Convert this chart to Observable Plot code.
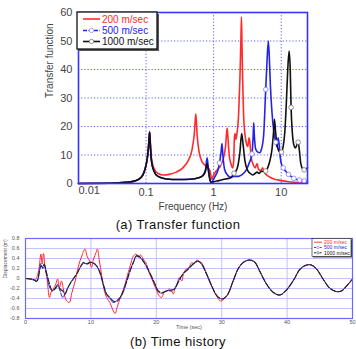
<!DOCTYPE html>
<html><head><meta charset="utf-8">
<script src="https://cdn.jsdelivr.net/npm/d3@7"></script>
<script src="https://cdn.jsdelivr.net/npm/@observablehq/plot@0.6"></script>
<style>
body{margin:0;background:#fff;font-family:"Liberation Sans",Arial,sans-serif;}
#wrap{position:relative;width:356px;height:349px;overflow:hidden;background:#fff;}
#wrap > *{position:absolute;left:0;}
.cap{width:356px;text-align:center;font-size:13px;color:#111;letter-spacing:0.4px;line-height:1;}
</style></head><body><div id="wrap"></div>
<script>
// ---------- (a) Transfer function ----------
const seriesNames = ["200 m/sec", "500 m/sec", "1000 m/sec"];
const redF = [0.01,0.03,0.05,0.07,0.085,0.095,0.103,0.108,0.111,0.113,0.116,0.12,0.13,0.15,0.18,0.22,0.28,0.35,0.42,0.48,0.52,0.545,0.57,0.61,0.68,0.78,0.88,0.94,1.0,1.1,1.25,1.4,1.5,1.56,1.59,1.63,1.7,1.8,1.92,1.98,2.03,2.08,2.13,2.2,2.35,2.45,2.53,2.58,2.63,2.7,2.8,3.0,3.2,3.35,3.45,3.6,3.8,4.1,4.4,4.6,5.0,5.3,5.6,6.5,8,10,13,18,24.5];
const redV = [0,0.1,0.4,1.0,2.2,4.5,8,12,16,18.2,14,9,5.5,3.5,3,3.2,4,5.5,8,12,18,24.5,17,11,7.5,6,4.5,1.5,3,4.5,6,9,13,18,19.5,16,10,7,5.5,8,16,17.5,15.5,17,25,37,50,58.5,48,35,22,15,13,16,14,9,7,5.5,7,5,4.5,5.5,4,2.5,1.5,1,0.6,0.3,0.2];
const blueF = [0.01,0.03,0.05,0.07,0.085,0.095,0.103,0.108,0.111,0.113,0.116,0.12,0.13,0.15,0.2,0.3,0.45,0.6,0.7,0.76,0.8,0.83,0.87,0.92,0.97,1.05,1.15,1.22,1.28,1.33,1.37,1.45,1.6,1.8,2.0,2.3,2.6,3.0,3.4,3.7,3.85,3.92,4.0,4.2,4.5,4.8,5.1,5.5,5.9,6.2,6.45,6.65,6.9,7.3,7.8,8.3,8.7,9.0,9.3,9.7,10.2,10.7,11.5,12.8,14,15.4,17,18.7,21.9,24.5];
const blueV = [0,0.1,0.4,1.0,2.2,4.5,8,12,16,18,13,8,4.5,2.5,1.6,1.4,1.5,2,3,5,9,6,2,0.3,1,2.5,4.5,7.2,10.5,14,10,5,3,2.2,2.5,2.5,3,4.5,7.5,10.4,17,21.3,17,12,11,10.8,12,17,33,44,50,45,35,25,18,14.5,13,16,14,9,6.5,5.5,4.5,3.2,2.5,1.8,1.4,1.2,0.9,0.8];
const blackF = [0.01,0.03,0.05,0.07,0.085,0.095,0.103,0.108,0.111,0.113,0.116,0.12,0.13,0.15,0.2,0.3,0.45,0.6,0.7,0.76,0.8,0.83,0.87,0.92,1.0,1.2,1.5,1.8,2.0,2.1,2.3,2.45,2.6,2.72,2.9,3.2,3.5,3.8,4.1,4.4,4.7,5.0,5.5,5.9,6.3,6.8,7.3,7.7,7.95,8.2,8.6,9.0,9.5,10.1,10.7,11.3,11.9,12.5,13.1,13.6,14.0,14.6,15.4,16.2,17.0,17.8,18.5,19.5,21.0,21.8,24.5];
const blackV = [0,0.1,0.4,1.0,2.2,4.5,8,12,16,18,13,8,4.5,2.5,1.6,1.4,1.5,2,2.8,4.5,7,5,2,0.3,0.6,1,1.6,2,3.6,4,6.5,11,17.5,14,8,4.5,3.5,3,3.5,4,3.5,4.2,4.3,4.4,5.5,8,12,18,22.5,19,14,12,11,11,13,18,28,40,46.5,40,26.7,18,13.5,12.5,13.5,14.5,12,7,5,4.8,5.5];
const blueMarkF = [1.22,3.7,5.9,8.3,10.7,12.8,15.4,18.7,21.9];
const blackMarkF = [2.0,5.9,10.1,14.0,17.8,21.8];
const freqTicks = [0.01,0.1,1,10];
const tfTicks = [0,10,20,30,40,50,60];

// ---------- (b) Time history ----------
const redT = [0,0.97,1.5,2.0,2.35,2.55,2.75,3.0,3.27,3.67,3.9,4.27,4.64,4.9,5.2,5.5,5.8,6.2,6.7,7.1,7.6,8.1,8.6,9.1,9.4,9.8,10.1,10.4,10.8,11.0,11.3,11.7,12.0,12.4,12.9,13.3,13.7,14.0,14.5,15.0,15.5,16.0,16.5,16.9,17.25,17.6,18.0,18.4,18.9,19.45,19.95,20.45,20.8,21.2,21.6,22.0,22.35,22.6,22.9,23.2,23.5,23.9,24.2,24.6,25.0,25.4,25.75,26.2,26.6,26.9,27.3,27.8,28.3,28.8,29.3,29.8,30.2,31.0,31.75,32.5,33.3,34.3,35.1,35.8,36.85,37.9,38.9,39.9,41.0,42.0,43.0,43.7,44.5,45.5,46.5,47.5,48.3,49.1,50];
const redD = [0,-0.01,-0.03,0.15,0.49,0.29,0.5,0.21,0.02,-0.38,-0.28,-0.21,-0.11,-0.01,-0.18,-0.05,-0.21,-0.43,-0.48,-0.28,-0.05,0.25,0.45,0.59,0.45,0.35,0.22,0.39,0.52,0.59,0.35,0.02,-0.21,-0.38,-0.48,-0.61,-0.7,-0.58,-0.38,-0.21,0.02,0.25,0.45,0.49,0.42,0.47,0.39,0.32,0.12,-0.05,-0.21,-0.35,-0.38,-0.28,-0.25,-0.21,-0.25,-0.31,-0.18,-0.11,0.02,-0.05,0.12,0.19,0.22,0.32,0.29,0.37,0.34,0.32,0.22,0.05,-0.11,-0.25,-0.37,-0.45,-0.43,-0.31,-0.05,0.19,0.32,0.37,0.32,0.15,-0.11,-0.28,-0.33,-0.23,-0.03,0.19,0.27,0.27,0.19,-0.01,-0.19,-0.26,-0.25,-0.15,-0.01];
const blueT = [0,0.7,1.2,1.74,2.15,2.35,2.65,2.85,3.27,3.77,4.1,4.5,4.9,5.3,5.7,6.06,6.4,6.8,7.3,7.85,8.35,8.85,9.4,9.9,10.4,10.9,11.4,11.9,12.4,12.9,13.4,13.95,14.5,15.0,15.5,16.0,16.5,17.0,17.5,18.3,19.0,19.8,20.3,20.8,21.6,22.35,22.8,23.35,24.1,24.9,25.65,26.4,26.9,27.7,28.5,29.2,30.0,30.75,31.75,32.5,33.3,34.3,35.1,35.8,36.85,37.9,38.9,39.9,41.0,42.0,43.0,43.7,44.5,45.5,46.5,47.5,48.3,49.1,50];
const blueD = [0,-0.01,-0.03,-0.06,0.18,0.3,0.2,0.27,0.05,-0.2,-0.24,-0.2,-0.12,-0.25,-0.38,-0.3,-0.2,-0.1,0.0,0.1,0.22,0.3,0.3,0.33,0.3,0.24,0.1,-0.13,-0.32,-0.4,-0.48,-0.44,-0.37,-0.22,-0.03,0.17,0.33,0.47,0.42,0.28,0.1,-0.12,-0.26,-0.3,-0.24,-0.25,-0.2,-0.06,0.1,0.2,0.3,0.34,0.3,0.08,-0.16,-0.34,-0.41,-0.35,-0.05,0.19,0.32,0.37,0.32,0.15,-0.11,-0.28,-0.33,-0.23,-0.03,0.19,0.27,0.27,0.19,-0.01,-0.19,-0.26,-0.25,-0.15,-0.01];
const blackT = [0,0.7,1.2,1.74,2.15,2.35,2.65,2.85,3.27,3.77,4.1,4.5,4.9,5.3,5.7,6.06,6.4,6.8,7.3,7.85,8.35,8.85,9.4,9.9,10.4,10.9,11.4,11.9,12.4,12.9,13.4,13.95,14.5,15.0,15.5,16.0,16.5,17.0,17.5,18.3,19.0,19.8,20.3,20.8,21.6,22.35,22.8,23.35,24.1,24.9,25.65,26.4,26.9,27.7,28.5,29.2,30.0,30.75,31.75,32.5,33.3,34.3,35.1,35.8,36.85,37.9,38.9,39.9,41.0,42.0,43.0,43.7,44.5,45.5,46.5,47.5,48.3,49.1,50];
const blackD = [0,-0.01,-0.02,-0.05,0.15,0.25,0.22,0.29,0.09,-0.15,-0.25,-0.21,-0.15,-0.21,-0.25,-0.31,-0.21,-0.11,-0.01,0.09,0.22,0.32,0.29,0.32,0.31,0.25,0.12,-0.11,-0.31,-0.38,-0.45,-0.46,-0.38,-0.25,-0.05,0.15,0.32,0.45,0.43,0.29,0.12,-0.11,-0.25,-0.28,-0.25,-0.23,-0.21,-0.08,0.09,0.19,0.29,0.35,0.29,0.09,-0.15,-0.33,-0.41,-0.35,-0.05,0.19,0.32,0.37,0.32,0.15,-0.11,-0.28,-0.33,-0.23,-0.03,0.19,0.27,0.27,0.19,-0.01,-0.19,-0.26,-0.25,-0.15,-0.01];
const timeTicks = [0,10,20,30,40,50];
const dispTicks = [-0.8,-0.6,-0.4,-0.2,0,0.2,0.4,0.6,0.8];

const RED = "#ff2b2b", BLUE = "#2424e6", BLACK = "#111111";
const zip = (xs, ys) => xs.map((x, i) => ({x, y: ys[i]}));
const pick = (fs, xs, ys) => fs.map(f => ({x: f, y: ys[xs.indexOf(f)]}));

const wrap = document.getElementById("wrap");
const FONT = "Liberation Sans, Arial, sans-serif";

// ---- top plot ----
const topPlot = Plot.plot({
  width: 356, height: 215,
  marginLeft: 78, marginRight: 49, marginTop: 12, marginBottom: 32,
  x: {type: "log", domain: [0.01, 24.5]},
  y: {domain: [0, 60]},
  style: {fontFamily: FONT, fontSize: "11px", color: "#333", background: "transparent", overflow: "visible"},
  marks: [
    Plot.ruleX(freqTicks.slice(1), {stroke: "#5c5cff", strokeDasharray: "1.2,2", strokeWidth: 1}),
    Plot.ruleY(tfTicks.slice(1, -1), {stroke: "#5c5cff", strokeDasharray: "1.2,2", strokeWidth: 1}),
    Plot.line(zip(redF, redV), {x: "x", y: "y", stroke: RED, strokeWidth: 1.6, curve: "monotone-x"}),
    Plot.line(zip(blueF, blueV), {x: "x", y: "y", stroke: BLUE, strokeWidth: 1.6, curve: "monotone-x"}),
    Plot.line(zip(blackF, blackV), {x: "x", y: "y", stroke: BLACK, strokeWidth: 1.6, curve: "monotone-x"}),
    Plot.dot(pick(blueMarkF, blueF, blueV), {x: "x", y: "y", r: 2.3, fill: "white", stroke: "#8080ff", strokeWidth: 0.8}),
    Plot.dot(pick(blackMarkF, blackF, blackV), {x: "x", y: "y", r: 2.3, fill: "white", stroke: "#777", strokeWidth: 0.8}),
    Plot.frame({stroke: "#3535ff", strokeWidth: 1.6}),
    Plot.axisY(tfTicks, {tickSize: 0, tickPadding: 6, label: null, fill: "#444"}),
    Plot.axisX(freqTicks.slice(1), {tickSize: 0, tickPadding: 5, label: null, tickFormat: d => String(d), fill: "#444"}),
    Plot.text(freqTicks.slice(0, 1), {x: d => d, frameAnchor: "bottom", dy: 10, textAnchor: "start", text: d => String(d), fill: "#444", fontSize: 11}),
    Plot.text(["Frequency (Hz)"], {frameAnchor: "bottom", dy: 26, text: d => d, fill: "#444", fontSize: 10}),
    Plot.text(["Transfer function"], {frameAnchor: "left", dx: -29, rotate: -90, text: d => d, fill: "#444", fontSize: 10})
  ]
});
topPlot.style.top = "0px";
wrap.appendChild(topPlot);

// ---- bottom plot ----
const botPlot = Plot.plot({
  width: 356, height: 102,
  marginLeft: 25, marginRight: 4, marginTop: 6, marginBottom: 16,
  x: {domain: [0, 50]},
  y: {domain: [-0.8, 0.8]},
  style: {fontFamily: FONT, fontSize: "5.5px", color: "#555", background: "transparent", overflow: "visible"},
  marks: [
    Plot.ruleX(timeTicks.slice(1, -1), {stroke: "#b4b4ff", strokeWidth: 0.8}),
    Plot.ruleY(dispTicks.slice(1, -1), {stroke: "#b4b4ff", strokeWidth: 0.8}),
    Plot.line(zip(redT, redD), {x: "x", y: "y", stroke: RED, strokeWidth: 1, curve: "catmull-rom"}),
    Plot.line(zip(blueT, blueD), {x: "x", y: "y", stroke: BLUE, strokeWidth: 1, strokeDasharray: "5,1.5", curve: "catmull-rom"}),
    Plot.line(zip(blackT, blackD), {x: "x", y: "y", stroke: "#222", strokeWidth: 1.1, strokeDasharray: "6,2", curve: "catmull-rom"}),
    Plot.frame({stroke: "#6a6aff", strokeWidth: 1.2}),
    Plot.axisY(dispTicks, {tickSize: 0, tickPadding: 6, label: null, tickFormat: d => d === 0 ? "0" : d.toFixed(1), fill: "#555"}),
    Plot.axisX(timeTicks, {tickSize: 0, tickPadding: 2, label: null, fill: "#555"}),
    Plot.text(["Time (sec)"], {frameAnchor: "bottom", dy: 10.5, text: d => d, fill: "#555", fontSize: 5.5}),
    Plot.text(["Displacement (m)"], {frameAnchor: "left", dx: -20.5, rotate: -90, text: d => d, fill: "#555", fontSize: 5})
  ]
});
botPlot.style.top = "232px";
wrap.appendChild(botPlot);

// ---- captions ----
function caption(txt, top) {
  const d = document.createElement("div");
  d.className = "cap"; d.textContent = txt; d.style.top = top + "px";
  wrap.appendChild(d);
}
caption("(a) Transfer function", 218);
caption("(b) Time history", 335);

// ---- legends ----
function legend(x, y, w, h, rows, fs, lineLen, shadow) {
  const svg = d3.create("svg").attr("width", 356).attr("height", 349)
    .style("position", "absolute").style("left", "0px").style("top", "0px").style("overflow", "visible");
  svg.append("rect").attr("x", x + shadow).attr("y", y + shadow).attr("width", w).attr("height", h).attr("fill", "#555");
  svg.append("rect").attr("x", x).attr("y", y).attr("width", w).attr("height", h).attr("fill", "white")
    .attr("stroke", "#111").attr("stroke-width", shadow > 1 ? 1.3 : 0.6);
  rows.forEach((r, i) => {
    const cy = r.y;
    svg.append("line").attr("x1", r.x0).attr("x2", r.x0 + lineLen).attr("y1", cy).attr("y2", cy)
      .attr("stroke", r.color).attr("stroke-width", fs > 7 ? 1.6 : 0.9).attr("stroke-dasharray", r.dash || null);
    if (r.marker) svg.append("circle").attr("cx", r.x0 + lineLen / 2).attr("cy", cy).attr("r", fs > 7 ? 2.2 : 1.2)
      .attr("fill", "white").attr("stroke", r.markerColor).attr("stroke-width", 0.7);
    svg.append("text").attr("x", r.x0 + lineLen + 2).attr("y", cy).attr("dy", "0.35em")
      .attr("font-family", FONT).attr("font-size", fs).attr("fill", r.color).text(r.label);
  });
  wrap.appendChild(svg.node());
}
legend(77, 12, 80, 37, [
  {y: 19, x0: 83, color: RED, label: seriesNames[0]},
  {y: 30.5, x0: 83, color: BLUE, label: seriesNames[1], dash: "4,1.5", marker: true, markerColor: "#8080ff"},
  {y: 41.5, x0: 83, color: BLACK, label: seriesNames[2], marker: true, markerColor: "#666"}
], 10, 17, 2);
legend(312, 238.5, 39, 18, [
  {y: 242.2, x0: 314, color: RED, label: seriesNames[0]},
  {y: 247.5, x0: 314, color: BLUE, label: seriesNames[1], dash: "2,0.8", marker: true, markerColor: "#8080ff"},
  {y: 252.8, x0: 314, color: BLACK, label: seriesNames[2], dash: "2,0.8", marker: true, markerColor: "#666"}
], 5, 8, 1);
</script></body></html>
